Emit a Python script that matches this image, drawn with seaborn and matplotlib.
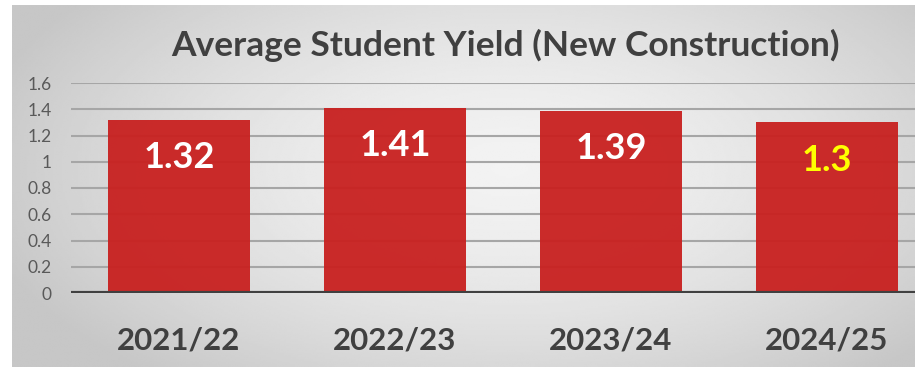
import numpy as np
import pandas as pd
import matplotlib
matplotlib.use("Agg")
import matplotlib.pyplot as plt
import seaborn as sns

years = ["2021/22", "2022/23", "2023/24", "2024/25"]
yields = [1.32, 1.41, 1.39, 1.3]
value_labels = ["1.32", "1.41", "1.39", "1.3"]
label_colors = ["white", "white", "white", "#FFFF00"]
yticks = [0, 0.2, 0.4, 0.6, 0.8, 1.0, 1.2, 1.4, 1.6]
ytick_labels = ["0", "0.2", "0.4", "0.6", "0.8", "1", "1.2", "1.4", "1.6"]
title = "Average Student Yield (New Construction)"

sns.set_style("white")
plt.rcParams["font.family"] = ["Lato", "DejaVu Sans"]

W, H = 915, 367
fig = plt.figure(figsize=(W / 100, H / 100), dpi=100)
fig.patch.set_facecolor("white")

# background frame with radial gradient
bx0, by0 = 12, 5
bg = fig.add_axes([bx0 / W, 0, 1 - bx0 / W, 1 - by0 / H], zorder=-5)
ny, nx = 200, 500
yy, xx = np.mgrid[0:ny, 0:nx]
cx, cy = nx * 0.55, ny * 0.45
r = np.sqrt(((xx - cx) / (nx * 0.6)) ** 2 + ((yy - cy) / (ny * 0.75)) ** 2)
r = np.clip(r, 0, 1)
val = 0.95 - (0.95 - 0.78) * r ** 1.6
bg.imshow(val, cmap="gray", vmin=0, vmax=1, aspect="auto", interpolation="bilinear")
bg.axis("off")

# main axes
left = 71 / W
right = 935 / W
bottom = (H - 293) / H
top = (H - 83) / H
ax = fig.add_axes([left, bottom, right - left, top - bottom])
ax.patch.set_alpha(0)

df = pd.DataFrame({"year": years, "yield": yields})
sns.barplot(data=df, x="year", y="yield", color="#C8201F", saturation=1,
            width=0.66, ax=ax, zorder=2, alpha=0.95, linewidth=0)

ax.set_ylim(0, 1.6)
ax.set_xlim(-0.5, 3.5)
ax.set_yticks(yticks)
ax.set_yticklabels(ytick_labels, fontsize=12.5, color="#595959")
ax.tick_params(axis="y", length=0, pad=14)
ax.tick_params(axis="x", length=0, pad=24)
for lab in ax.get_xticklabels():
    lab.set_fontsize(22.5)
    lab.set_fontweight("bold")
    lab.set_color("#404040")
ax.set_xlabel("")
ax.set_ylabel("")
for y in yticks[1:]:
    ax.axhline(y, color="#A6A6A6", lw=1.5, zorder=1)
ax.axhline(0, color="#404040", lw=3, zorder=3)
for s in ax.spines.values():
    s.set_visible(False)

for i, (v, t, c) in enumerate(zip(yields, value_labels, label_colors)):
    ax.annotate(t, xy=(i, v), xytext=(0, -38), textcoords="offset pixels",
                ha="center", va="center", fontsize=26, fontweight="bold",
                color=c, zorder=4)

fig.text(505 / W, 1 - 45 / H, title, ha="center", va="center",
         fontsize=25.5, fontweight="bold", color="#404040")

fig.savefig("out.png", dpi=100)
